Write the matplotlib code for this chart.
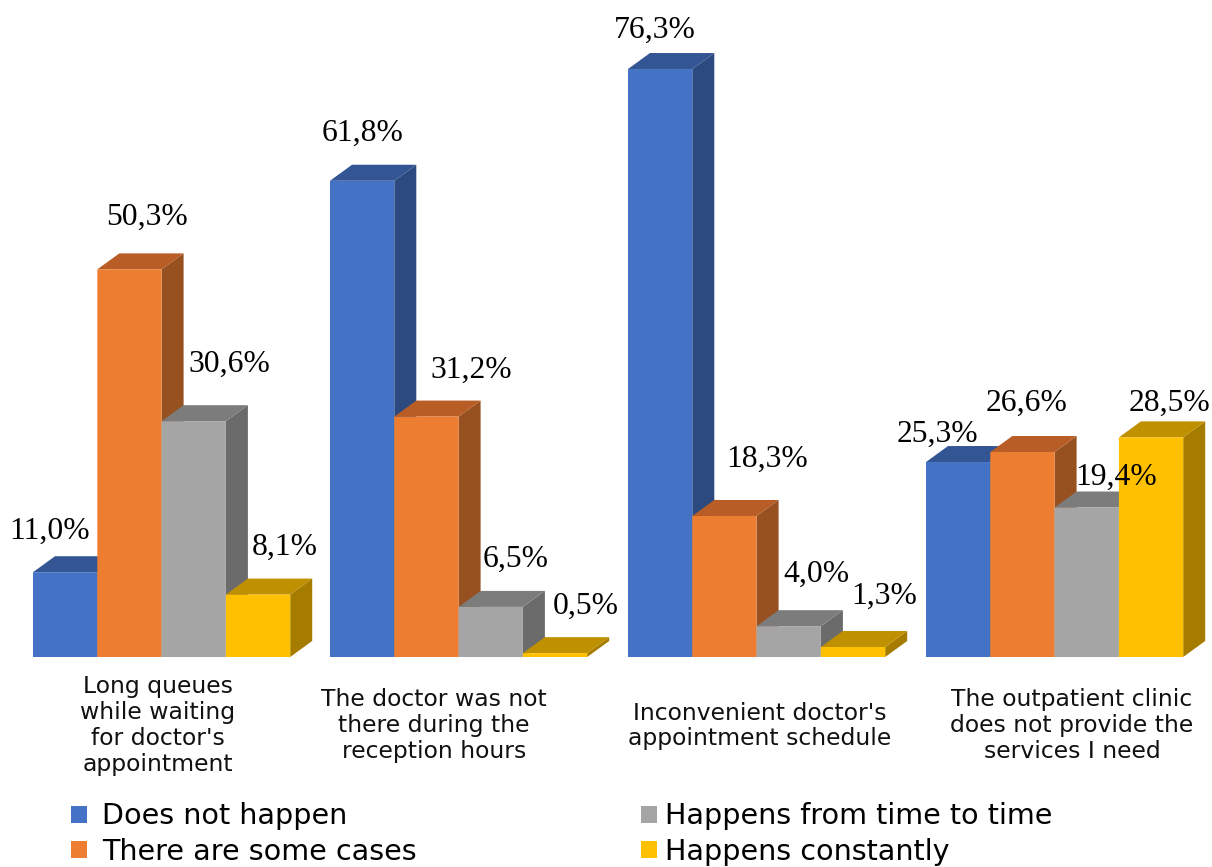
import matplotlib
matplotlib.use("Agg")
import matplotlib.pyplot as plt
from matplotlib.patches import Polygon

categories = ["Long queues\nwhile waiting\nfor doctor's\nappointment",
              "The doctor was not\nthere during the\nreception hours",
              "Inconvenient doctor's\nappointment schedule",
              "The outpatient clinic\ndoes not provide the\nservices I need"]
series_names = ["Does not happen", "There are some cases",
                "Happens from time to time", "Happens constantly"]
does_not_happen = [11.0, 61.8, 76.3, 25.3]
some_cases = [50.3, 31.2, 18.3, 26.6]
time_to_time = [30.6, 6.5, 4.0, 19.4]
constantly = [8.1, 0.5, 1.3, 28.5]

colors = ["#4472C4", "#ED7D31", "#A5A5A5", "#FFC000"]
top_colors = ["#335593", "#B85D25", "#7C7C7C", "#BF9000"]
side_colors = ["#2C4A80", "#97501F", "#6B6B6B", "#A67C00"]

W, H = 1212, 867
base_y = 657.0      # pixel row of the zero line
px_per_unit = 7.706
group_x = [33, 330, 628, 926]
bar_w = 64.3
dx = 22
dy = 16 / px_per_unit


def val(y):
    return (base_y - y) / px_per_unit


# label centres in picture pixels, one list per series
label_xy = [[(50, 531), (363, 133), (655, 30), (937, 434)],
            [(147, 217), (471, 370), (767, 459), (1027, 403)],
            [(229, 364), (516, 559), (816, 574), (1116, 477)],
            [(285, 547), (586, 606), (884, 596), (1169, 403)]]
cat_xy = [(158, 725.5), (434, 725.5), (760, 726), (1072, 725.5)]

fig = plt.figure(figsize=(W / 100, H / 100), dpi=100)
ax = fig.add_axes([0, 0, 1, 1])
ax.set_xlim(0, W)
ax.set_ylim(val(H), val(0))
ax.axis("off")

all_series = [does_not_happen, some_cases, time_to_time, constantly]
handles = []
for j, values in enumerate(all_series):
    xs = [g + j * bar_w for g in group_x]
    for x, v in zip(xs, values):
        # side and top faces of the 3d look
        ax.add_patch(Polygon([(x + bar_w, 0), (x + bar_w + dx, dy), (x + bar_w + dx, v + dy), (x + bar_w, v)],
                             fc=side_colors[j], ec="none", zorder=2 + j))
        ax.add_patch(Polygon([(x, v), (x + dx, v + dy), (x + bar_w + dx, v + dy), (x + bar_w, v)],
                             fc=top_colors[j], ec="none", zorder=2 + j))
    bars = ax.bar(xs, values, width=bar_w, align="edge", color=colors[j], label=series_names[j],
                  zorder=2.5 + j, snap=False)
    handles.append(bars)
    for (lx, ly), v in zip(label_xy[j], values):
        ax.text(lx, val(ly), ("%.1f%%" % v).replace(".", ","), ha="center", va="center",
                family="Liberation Serif", fontsize=22.8, color="black", zorder=10)

for (cx, cy), c in zip(cat_xy, categories):
    ax.text(cx, val(cy), c, ha="center", va="center", family="DejaVu Sans", fontsize=16.9,
            linespacing=1.15, color="#111111", zorder=10)

leg_style = dict(loc="upper left", frameon=False, prop={"family": "DejaVu Sans", "size": 20.6},
                 handlelength=0.556, handleheight=0.556, labelspacing=0.26, borderpad=0, borderaxespad=0)
leg1 = ax.legend(handles[:2], series_names[:2], bbox_to_anchor=(71 / W, 0.0745), handletextpad=0.52, **leg_style)
ax.add_artist(leg1)
ax.legend(handles[2:], series_names[2:], bbox_to_anchor=(641 / W, 0.0745), handletextpad=0.28, **leg_style)

fig.savefig("out.png", dpi=100)
